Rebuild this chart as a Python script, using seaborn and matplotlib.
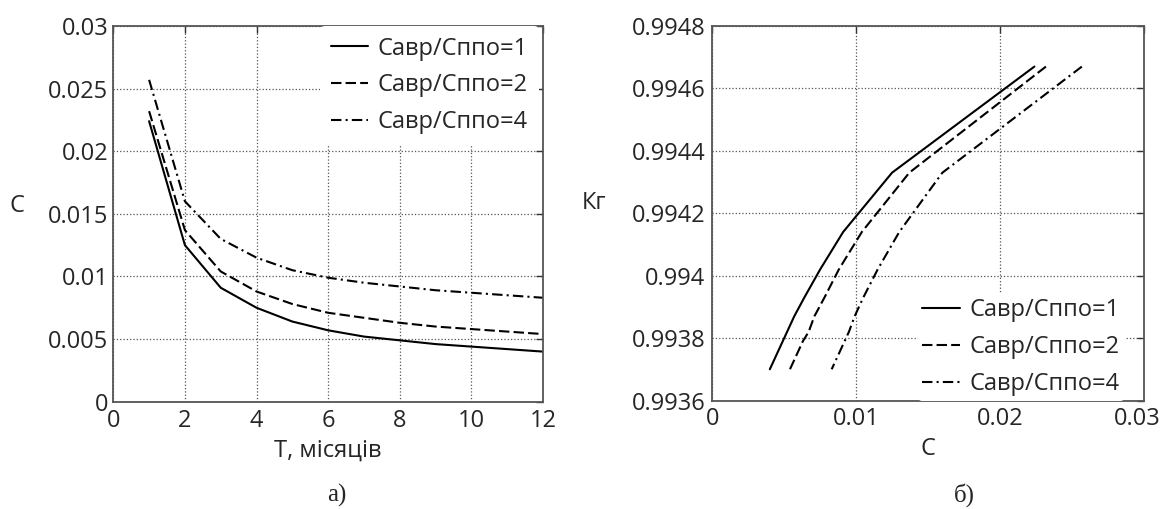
import matplotlib
matplotlib.use("Agg")
import matplotlib.pyplot as plt
import matplotlib.transforms as mtransforms
import numpy as np
import pandas as pd
import seaborn as sns
from matplotlib.ticker import FuncFormatter, MultipleLocator

# ---- data ----
months = [1, 2, 3, 4, 5, 6, 7, 8, 9, 10, 11, 12]
c_ratio1 = [0.0224, 0.0125, 0.0091, 0.0075, 0.0064, 0.0057, 0.0052, 0.0049, 0.0046, 0.0044, 0.0042, 0.0040]
c_ratio2 = [0.0232, 0.0137, 0.0104, 0.0088, 0.0078, 0.0071, 0.0067, 0.0063, 0.0060, 0.0058, 0.0056, 0.0054]
c_ratio4 = [0.0257, 0.0160, 0.0130, 0.0115, 0.0105, 0.0099, 0.0095, 0.0092, 0.0089, 0.0087, 0.0085, 0.0083]
kg_values = [0.99467, 0.99433, 0.99414, 0.99402, 0.99393, 0.99387, 0.99382, 0.99379, 0.99376, 0.99374, 0.99372, 0.99370]
series_labels = ["Савр/Сппо=1", "Савр/Сппо=2", "Савр/Сппо=4"]
left_xticks = [0, 2, 4, 6, 8, 10, 12]
right_xticks = [0, 0.01, 0.02, 0.03]

rows = []
for lab, vals in zip(series_labels, [c_ratio1, c_ratio2, c_ratio4]):
    for t, c, kg in zip(months, vals, kg_values):
        rows.append({"series": lab, "T": t, "C": c, "Kg": kg})
df = pd.DataFrame(rows)

sns.set_style("white")
plt.rcParams["font.family"] = ["Open Sans", "DejaVu Sans"]
plt.rcParams["font.size"] = 17

FS = 17
fig = plt.figure(figsize=(11.64, 5.09), dpi=100)
axL = fig.add_axes([113.3 / 1164, 1 - 401.7 / 509, 429.7 / 1164, 375.7 / 509])
axR = fig.add_axes([712.3 / 1164, 1 - 400.5 / 509, 431.4 / 1164, 374.5 / 509])

dashes = {series_labels[0]: "", series_labels[1]: (5, 2), series_labels[2]: (5, 2, 1, 2)}
fmt = FuncFormatter(lambda v, _: f"{round(v, 6):g}")

sns.lineplot(data=df, x="T", y="C", style="series", dashes=dashes, color="black",
             estimator=None, sort=False, lw=1.5, ax=axL)
sns.lineplot(data=df, x="C", y="Kg", style="series", dashes=dashes, color="black",
             estimator=None, sort=False, lw=1.5, ax=axR)

for ax in (axL, axR):
    ax.grid(True, linestyle=":", color="#555555", linewidth=0.9)
    for sp in ax.spines.values():
        sp.set_visible(True)
        sp.set_color("#555555")
        sp.set_linewidth(1.3)
    ax.tick_params(direction="in", length=5, width=1, color="#333333",
                   top=True, right=True, labelsize=FS)
    ax.tick_params(axis="x", pad=5)
    ax.tick_params(axis="y", pad=3.5)

axL.set_xlim(0, 12)
axL.set_ylim(0, 0.03)
axL.set_xticks(left_xticks)
axL.yaxis.set_major_locator(MultipleLocator(0.005))
axL.xaxis.set_major_formatter(fmt)
axL.yaxis.set_major_formatter(fmt)
axL.set_xlabel("T, місяців", fontsize=FS, labelpad=4)
axL.set_ylabel("С", fontsize=FS, rotation=0)
axL.yaxis.set_label_coords(-0.225, 0.49)

axR.set_xlim(0, 0.03)
axR.set_ylim(0.9936, 0.9948)
axR.set_xticks(right_xticks)
axR.set_xticklabels([f"{v:g}" for v in right_xticks])
axR.yaxis.set_major_locator(MultipleLocator(0.0002))
axR.yaxis.set_major_formatter(fmt)
axR.tick_params(axis="y", pad=5)
axR.set_xlabel("С", fontsize=FS, labelpad=4)
axR.set_ylabel("Кг", fontsize=FS, rotation=0)
axR.yaxis.set_label_coords(-0.275, 0.495)

# keep the last x tick label ("0.03") inside the picture, as in the reference
last_lab = axR.get_xticklabels()[-1]
last_lab.set_transform(last_lab.get_transform() +
                       mtransforms.ScaledTranslation(-5 / 72, 0, fig.dpi_scale_trans))

hL, lL = axL.get_legend_handles_labels()
axL.legend(hL, lL, loc="upper left", bbox_to_anchor=(0.481, 1.0), borderaxespad=0,
           borderpad=0.45, frameon=True, facecolor="white", edgecolor="none", framealpha=1,
           fontsize=FS, handlelength=1.6, handletextpad=0.4, labelspacing=0.54)
hR, lR = axR.get_legend_handles_labels()
axR.legend(hR, lR, loc="lower left", bbox_to_anchor=(0.476, 0.0), borderaxespad=0,
           borderpad=0.2, frameon=True, facecolor="white", edgecolor="none", framealpha=1,
           fontsize=FS, handlelength=1.6, handletextpad=0.4, labelspacing=0.54)

fig.text(337 / 1164, 1 - 495 / 509, "а)", family="Liberation Serif", fontsize=18,
         ha="center", va="center")
fig.text(964 / 1164, 1 - 495 / 509, "б)", family="Liberation Serif", fontsize=18,
         ha="center", va="center")

fig.savefig("out.png", dpi=100)
